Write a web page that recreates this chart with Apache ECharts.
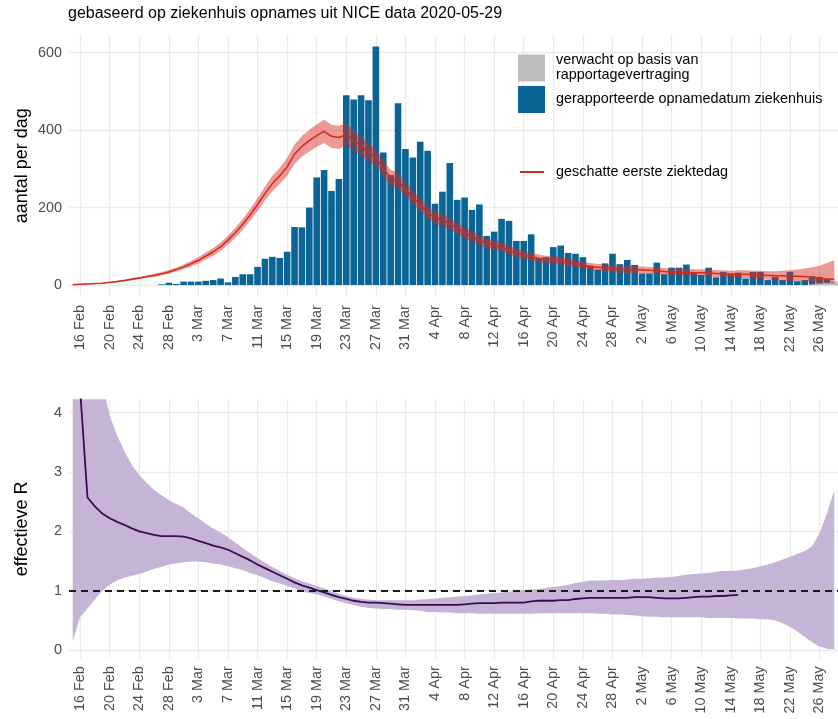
<!DOCTYPE html>
<html><head><meta charset="utf-8">
<script src="https://cdn.jsdelivr.net/npm/echarts@6/dist/echarts.min.js"></script>
<style>html,body{margin:0;padding:0;background:#fff}#c{width:838px;height:719px}</style>
</head><body><div id="c"></div>
<script>
// day offsets relative to 16 Feb 2020 (d = -1 .. 102)
const days = Array.from({length: 104}, (_, i) => i - 1);
const tickDays = [0,4,8,12,16,20,24,28,32,36,40,44,48,52,56,60,64,68,72,76,80,84,88,92,96,100];
const tickLabels = ['16 Feb','20 Feb','24 Feb','28 Feb','3 Mar','7 Mar','11 Mar','15 Mar','19 Mar','23 Mar','27 Mar','31 Mar','4 Apr','8 Apr','12 Apr','16 Apr','20 Apr','24 Apr','28 Apr','2 May','6 May','10 May','14 May','18 May','22 May','26 May'];
const yTicksTop = [0,200,400,600];
const yTicksR = [0,1,2,3,4];
const refR = 1;

// reported hospital admissions per day (blue)
const reported = [0,
 0,0,0,0,0,0,0,0,0,0,
 0,2,6,3,9,9,9,11,13,17,
 7,21,28,28,47,68,73,70,86,150,
 149,200,278,297,243,274,490,479,490,477,
 616,342,284,469,351,329,370,347,210,241,
 315,220,226,194,208,127,138,171,166,114,
 114,131,70,72,98,102,83,81,72,50,
 40,56,81,54,65,52,30,30,58,28,
 45,45,53,34,26,45,20,34,30,32,
 17,34,34,13,21,13,34,10,13,23,
 21,15,3];
// expected from reporting delay (grey)
const expected = [0,
 0,0,0,0,0,0,0,0,0,0,
 0,0,0,0,0,0,0,0,0,0,
 0,0,0,0,0,0,0,0,0,0,
 0,0,0,0,0,0,0,0,0,0,
 0,0,0,0,0,0,0,0,0,0,
 0,0,0,0,0,0,0,0,0,0,
 0,0,0,0,0,0,0,0,0,0,
 0,0,0,0,0,0,0,0,0,0,
 0,0,0,0,0,0,0,0,0,0,
 0,0,0,0,0,0,0,0,0,2,
 4,6,10];
// estimated first day of illness (red line + band)
const onset = [1,
 2,3,4,5,7,9,12,15,18,22,
 25,29,34,40,47,55,64,75,86,99,
 116,135,157,181,208,236,262,282,305,338,
 358,373,386,397,384,381,389,374,358,344,
 328,302,277,268,247,226,207,188,173,168,
 159,146,135,125,116,108,103,99,90,83,
 77,73,69,66,65,63,59,56,51,48,
 46,44,43,41,40,40,39,38,37,35,
 34,34,33,32,32,31,30,29,28,28,
 28,27,26,25,24,24,23,23,22,20,
 17,16,15];
const onsetLow = [0,
 1,2,3,4,5,7,10,12,15,19,
 21,25,29,35,41,48,56,66,76,88,
 104,122,143,166,191,218,242,261,282,313,
 331,345,357,367,354,351,360,347,333,320,
 306,281,257,248,228,208,189,171,157,152,
 144,131,121,111,103,95,91,87,78,72,
 66,62,59,56,55,53,49,46,42,39,
 37,35,34,32,31,31,30,29,28,26,
 25,25,24,23,23,22,21,20,19,18,
 18,17,15,14,12,11,10,10,9,7,
 5,4,3];
const onsetHigh = [2,
 3,4,5,6,9,11,14,18,21,25,
 29,33,39,45,53,62,72,84,96,110,
 128,148,171,196,225,254,282,303,328,363,
 385,401,415,427,414,411,418,401,383,368,
 350,323,297,292,266,244,225,205,189,184,
 174,161,149,139,129,121,115,111,102,94,
 88,84,79,76,75,73,69,66,60,57,
 55,53,52,50,49,49,48,47,46,44,
 43,43,42,41,41,40,39,38,37,38,
 38,37,37,36,36,37,38,40,43,46,
 50,57,65];
// effective R
const rEst = [null,
 4.4,2.57,2.42,2.30,2.22,2.16,2.11,2.05,2.00,1.97,
 1.94,1.92,1.92,1.92,1.91,1.88,1.84,1.80,1.76,1.73,
 1.69,1.63,1.57,1.51,1.44,1.38,1.32,1.26,1.20,1.14,
 1.09,1.05,1.01,0.97,0.93,0.89,0.86,0.83,0.81,0.80,
 0.80,0.79,0.78,0.77,0.76,0.76,0.76,0.76,0.76,0.76,
 0.76,0.76,0.77,0.78,0.79,0.79,0.79,0.80,0.80,0.80,
 0.80,0.82,0.83,0.83,0.83,0.84,0.84,0.86,0.87,0.88,
 0.88,0.88,0.88,0.88,0.88,0.89,0.89,0.89,0.88,0.87,
 0.87,0.87,0.88,0.89,0.90,0.90,0.91,0.91,0.92,0.93,
 null,null,null,null,null,null,null,null,null,null,
 null,null,null];
const rLow = [0.15,
 0.55,0.70,0.85,1.00,1.10,1.17,1.22,1.25,1.28,1.32,
 1.37,1.40,1.44,1.46,1.48,1.49,1.49,1.48,1.46,1.44,
 1.41,1.38,1.35,1.30,1.26,1.21,1.16,1.12,1.08,1.04,
 0.99,0.96,0.94,0.90,0.86,0.82,0.79,0.76,0.73,0.71,
 0.70,0.69,0.69,0.68,0.68,0.67,0.66,0.64,0.64,0.63,
 0.63,0.62,0.62,0.62,0.61,0.61,0.61,0.61,0.61,0.61,
 0.61,0.61,0.62,0.62,0.62,0.62,0.62,0.62,0.62,0.62,
 0.61,0.61,0.60,0.60,0.59,0.58,0.57,0.56,0.56,0.55,
 0.55,0.55,0.55,0.55,0.55,0.54,0.54,0.54,0.54,0.53,
 0.53,0.53,0.52,0.52,0.50,0.45,0.39,0.31,0.22,0.13,
 0.06,0.02,0.01];
const rHigh = [5,
 5,5,5,4.5,3.95,3.62,3.35,3.12,2.95,2.82,
 2.70,2.61,2.53,2.46,2.40,2.30,2.22,2.13,2.05,1.98,
 1.90,1.81,1.72,1.63,1.55,1.47,1.40,1.33,1.27,1.21,
 1.16,1.12,1.08,1.04,0.99,0.95,0.91,0.88,0.86,0.85,
 0.84,0.84,0.84,0.84,0.84,0.84,0.85,0.86,0.87,0.88,
 0.89,0.90,0.91,0.92,0.94,0.95,0.96,0.97,0.98,1.00,
 1.01,1.02,1.03,1.05,1.06,1.08,1.10,1.13,1.15,1.17,
 1.17,1.17,1.18,1.18,1.19,1.20,1.20,1.21,1.22,1.22,
 1.23,1.25,1.27,1.28,1.29,1.30,1.32,1.33,1.33,1.34,
 1.36,1.38,1.41,1.44,1.48,1.52,1.57,1.62,1.67,1.75,
 1.97,2.30,2.70];

const FONT = '"Liberation Sans", Arial, Helvetica, sans-serif';
const GRID_COLOR = '#ebebeb';
const pair = arr => days.map((d, i) => [d, arr[i]]);
const triple = (lo, hi) => days.map((d, i) => [d, lo[i], hi[i]]);

// ribbon drawn as one polygon through the axis scales (api.coord)
function ribbon(lo, hi, fill) {
  return function (params, api) {
    if (params.dataIndex !== 0) return null;
    const pts = [];
    for (let i = 0; i < days.length; i++) pts.push(api.coord([days[i], hi[i]]));
    for (let i = days.length - 1; i >= 0; i--) pts.push(api.coord([days[i], lo[i]]));
    const cs = params.coordSys;
    return {
      type: 'polygon', shape: {points: pts}, style: {fill: fill},
      clipPath: {type: 'rect', shape: {x: cs.x, y: cs.y, width: cs.width, height: cs.height}}
    };
  };
}

function xAxis(gi) {
  return {
    type: 'value', gridIndex: gi, min: -1.5, max: 102.5,
    axisLine: {show: false},
    axisTick: {show: false, customValues: tickDays},
    axisLabel: {
      customValues: tickDays, rotate: 90, margin: 8, color: '#4d4d4d',
      fontSize: 14.4, fontFamily: FONT,
      formatter: v => { const k = tickDays.indexOf(Math.round(v)); return k >= 0 ? tickLabels[k] : ''; }
    },
    splitLine: {show: true, lineStyle: {color: GRID_COLOR, width: 1.3}}
  };
}
function yAxis(gi, min, max, ticks, name) {
  return {
    type: 'value', gridIndex: gi, min: min, max: max,
    axisLine: {show: false},
    axisTick: {show: false, customValues: ticks},
    axisLabel: {customValues: ticks, margin: 7, color: '#4d4d4d', fontSize: 14.4, fontFamily: FONT},
    splitLine: {show: true, lineStyle: {color: GRID_COLOR, width: 1.3}},
    name: name, nameLocation: 'middle', nameGap: 38, nameMoveOverlap: false,
    nameTextStyle: {fontSize: 18, color: '#000', fontFamily: FONT}
  };
}

const chart = echarts.init(document.getElementById('c'), null, {renderer: 'canvas'});
chart.setOption({
  animation: false,
  backgroundColor: '#fff',
  title: {
    text: 'gebaseerd op ziekenhuis opnames uit NICE data 2020-05-29',
    left: 68, top: 6, padding: 0,
    textStyle: {fontSize: 16, fontWeight: 'normal', color: '#000', fontFamily: FONT}
  },
  legend: [
    {
      data: ['verwacht op basis van\nrapportagevertraging', 'gerapporteerde opnamedatum ziekenhuis'],
      orient: 'vertical', left: 518, top: 53, padding: 0,
      itemWidth: 27, itemHeight: 27, itemGap: 3, icon: 'rect', selectedMode: false,
      textStyle: {fontSize: 14.4, color: '#000', fontFamily: FONT, lineHeight: 15, padding: [0, 0, 0, 6]}
    },
    {
      data: ['geschatte eerste ziektedag'],
      orient: 'vertical', left: 520, top: 165, padding: 0,
      itemWidth: 24, itemHeight: 2, icon: 'rect', selectedMode: false,
      textStyle: {fontSize: 14.4, color: '#000', fontFamily: FONT, padding: [0, 0, 0, 7]}
    }
  ],
  grid: [
    {left: 69, right: 0, top: 34.4, height: 262.7},
    {left: 69, right: 0, top: 399.3, height: 259}
  ],
  xAxis: [xAxis(0), xAxis(1)],
  yAxis: [
    yAxis(0, -31, 647, yTicksTop, 'aantal per dag'),
    yAxis(1, -0.14, 4.226, yTicksR, 'effectieve R')
  ],
  series: [
    {
      name: 'gerapporteerde opnamedatum ziekenhuis', type: 'bar', stack: 'adm',
      xAxisIndex: 0, yAxisIndex: 0, barWidth: 6.6, color: '#0b6496', z: 2,
      data: pair(reported)
    },
    {
      name: 'verwacht op basis van\nrapportagevertraging', type: 'bar', stack: 'adm',
      xAxisIndex: 0, yAxisIndex: 0, barWidth: 6.6, color: '#bebebe', z: 2,
      data: pair(expected)
    },
    {
      name: 'onsetBand', type: 'custom', xAxisIndex: 0, yAxisIndex: 0, silent: true, z: 3,
      renderItem: ribbon(onsetLow, onsetHigh, 'rgba(215,40,30,0.47)'),
      encode: {x: 0, y: [1, 2]}, data: triple(onsetLow, onsetHigh)
    },
    {
      name: 'geschatte eerste ziektedag', type: 'line', xAxisIndex: 0, yAxisIndex: 0,
      symbol: 'none', color: '#d52a1e', lineStyle: {width: 1.5, color: '#d52a1e'}, z: 4,
      data: pair(onset)
    },
    {
      name: 'rBand', type: 'custom', xAxisIndex: 1, yAxisIndex: 1, silent: true, z: 2,
      renderItem: ribbon(rLow, rHigh, '#c5b4d5'),
      encode: {x: 0, y: [1, 2]}, data: triple(rLow, rHigh)
    },
    {
      name: 'effectieve R', type: 'line', xAxisIndex: 1, yAxisIndex: 1,
      symbol: 'none', color: '#3d0b55', lineStyle: {width: 1.8, color: '#3d0b55'}, z: 4,
      data: pair(rEst),
      markLine: {
        silent: true, symbol: ['none', 'none'], label: {show: false},
        lineStyle: {color: '#1a1a1a', type: [7, 5], width: 2},
        data: [{yAxis: refR}]
      }
    }
  ]
});
</script></body></html>
